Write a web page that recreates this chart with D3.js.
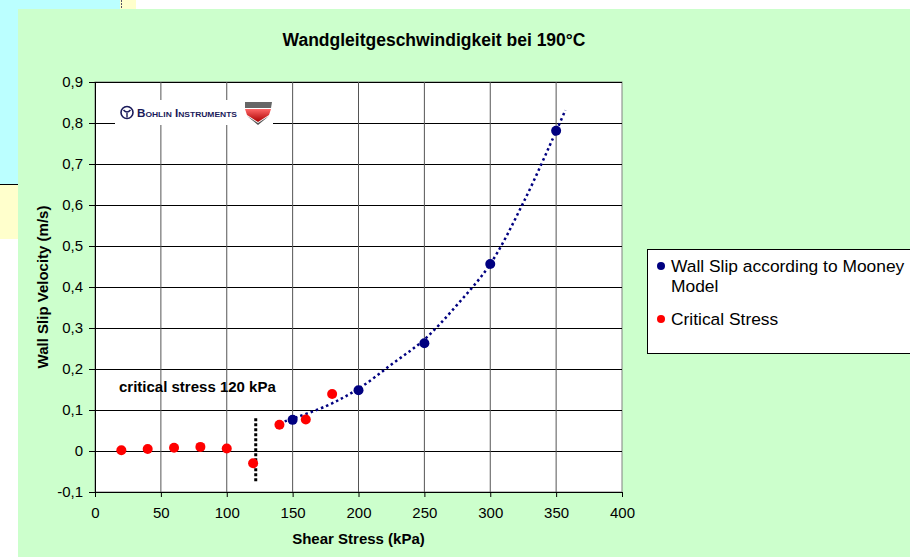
<!DOCTYPE html>
<html>
<head>
<meta charset="utf-8">
<script src="https://cdn.jsdelivr.net/npm/d3@7"></script>
<style>
  html, body { margin: 0; padding: 0; background: #fff; }
  svg { display: block; font-family: "Liberation Sans", Arial, sans-serif; }
</style>
</head>
<body>
<svg id="chart"></svg>
<script>
// Data
const mooneyStress = [150, 200, 250, 300, 350];
const mooneyVelocity = [0.076, 0.148, 0.263, 0.456, 0.781];

const criticalStress = [20, 40, 60, 80, 100, 120, 140, 160, 180];
const criticalVelocity = [0.002, 0.005, 0.008, 0.01, 0.006, -0.03, 0.064, 0.077, 0.139];

// trendline
const trendStress = [140, 175, 200, 225, 250, 275, 300, 325, 350, 357];
const trendVelocity = [0.068, 0.109, 0.152, 0.211, 0.272, 0.357, 0.456, 0.605, 0.78, 0.831];

// dotted marker at the critical stress
const markerStress = [122, 122];
const markerVelocity = [0.08, -0.078];

const xTicks = [0, 50, 100, 150, 200, 250, 300, 350, 400];
const yTicks = [-0.1, 0, 0.1, 0.2, 0.3, 0.4, 0.5, 0.6, 0.7, 0.8, 0.9];

const legendLabels = [["Wall Slip according to Mooney", "Model"], ["Critical Stress"]];
const legendColors = ["#000080", "#ff0000"];

const W = 910, H = 557;
const plot = { left: 95, right: 622, top: 82, bottom: 492 };

const svg = d3.select("#chart")
    .attr("width", W)
    .attr("height", H);

// background sheet pieces behind the chart
svg.append("rect").attr("x", 0).attr("y", 0).attr("width", 136).attr("height", 239).attr("fill", "#ffffcc");
svg.append("rect").attr("x", 0).attr("y", 0).attr("width", 120).attr("height", 184).attr("fill", "#bbffff");
svg.append("line").attr("x1", 0).attr("x2", 120).attr("y1", 184.5).attr("y2", 184.5).attr("stroke", "#000");
svg.append("line").attr("x1", 121.5).attr("x2", 121.5).attr("y1", 0).attr("y2", 9)
    .attr("stroke", "#556").attr("stroke-dasharray", "2,1");

// chart area
svg.append("rect").attr("x", 18).attr("y", 9).attr("width", W - 18).attr("height", H - 9).attr("fill", "#ccffcc");

const x = d3.scaleLinear().domain([0, 400]).range([plot.left, plot.right]);
const y = d3.scaleLinear().domain([-0.1, 0.9]).range([plot.bottom, plot.top]);

svg.append("rect")
    .attr("x", plot.left).attr("y", plot.top)
    .attr("width", plot.right - plot.left).attr("height", plot.bottom - plot.top)
    .attr("fill", "#fff").attr("stroke", "#808080");

// gridlines
svg.append("g")
    .selectAll("line")
    .data(yTicks.slice(1))
    .join("line")
    .attr("x1", plot.left).attr("x2", plot.right)
    .attr("y1", d => Math.round(y(d)) + 0.5).attr("y2", d => Math.round(y(d)) + 0.5)
    .attr("stroke", "#000");

svg.append("g")
    .selectAll("line")
    .data(xTicks.slice(1, -1))
    .join("line")
    .attr("x1", d => x(d)).attr("x2", d => x(d))
    .attr("y1", plot.top).attr("y2", plot.bottom)
    .attr("stroke", "#555");

// axes
const xAxis = svg.append("g")
    .attr("transform", "translate(0," + plot.bottom + ")")
    .call(d3.axisBottom(x).tickValues(xTicks).tickSize(5).tickPadding(10).tickFormat(d3.format("d")));
const yAxis = svg.append("g")
    .attr("transform", "translate(" + plot.left + ",0)")
    .call(d3.axisLeft(y).tickValues(yTicks).tickSize(6).tickPadding(6)
        .tickFormat(d => d === 0 ? "0" : d3.format(".1f")(d).replace(".", ",").replace("−", "-")));

[xAxis, yAxis].forEach(a => {
    a.select(".domain").attr("stroke", "#000");
    a.selectAll(".tick line").attr("stroke", "#000");
    a.selectAll("text").attr("fill", "#000").attr("font-size", 15)
        .attr("font-family", "'Liberation Sans', Arial, sans-serif");
});

// logo
const logo = svg.append("g");
logo.append("rect").attr("x", 115).attr("y", 100).attr("width", 158).attr("height", 25).attr("fill", "#fff");
logo.append("circle").attr("cx", 127).attr("cy", 112.5).attr("r", 6).attr("fill", "none")
    .attr("stroke", "#1a1a5a").attr("stroke-width", 1.6);
logo.append("path").attr("d", "M123.5,110 Q127,114 130.5,110 M127,113 L127,117.5")
    .attr("stroke", "#1a1a5a").attr("stroke-width", 1.4).attr("fill", "none");
logo.append("text").attr("x", 137).attr("y", 117)
    .attr("font-weight", "bold")
    .attr("font-size", 11).attr("fill", "#1a1a5a")
    .attr("font-variant", "small-caps")
    .attr("textLength", 100).attr("lengthAdjust", "spacingAndGlyphs")
    .text("Bohlin Instruments");
const grad = svg.append("defs").append("linearGradient").attr("id", "shield").attr("x1", 0).attr("y1", 0).attr("x2", 0).attr("y2", 1);
grad.append("stop").attr("offset", "0").attr("stop-color", "#ff6666");
grad.append("stop").attr("offset", "1").attr("stop-color", "#aa0000");
logo.append("path").attr("d", "M245,102 L272,102 L271,108 L245,108 Z").attr("fill", "#666");
logo.append("path").attr("d", "M245,109 L271,109 L269,115 L258,122 L247,115 Z").attr("fill", "url(#shield)");
logo.append("path").attr("d", "M247,116 L258,123 L269,116 L258,125 Z").attr("fill", "#555");

// trendline
const line = d3.line()
    .x(d => x(d[0]))
    .y(d => y(d[1]))
    .curve(d3.curveCatmullRom);

svg.append("path")
    .datum(d3.zip(trendStress, trendVelocity))
    .attr("fill", "none")
    .attr("stroke", "#000080")
    .attr("stroke-width", 2.5)
    .attr("stroke-dasharray", "2.5,3")
    .attr("d", line);

// critical stress marker
svg.append("path")
    .datum(d3.zip(markerStress, markerVelocity))
    .attr("fill", "none")
    .attr("stroke", "#000")
    .attr("stroke-width", 3)
    .attr("stroke-dasharray", "3,2")
    .attr("d", d3.line().x(d => x(d[0])).y(d => y(d[1])));

// points
svg.append("g")
    .selectAll("circle")
    .data(d3.zip(criticalStress, criticalVelocity))
    .join("circle")
    .attr("cx", d => x(d[0])).attr("cy", d => y(d[1]))
    .attr("r", 5)
    .attr("fill", "#ff0000");

svg.append("g")
    .selectAll("circle")
    .data(d3.zip(mooneyStress, mooneyVelocity))
    .join("circle")
    .attr("cx", d => x(d[0])).attr("cy", d => y(d[1]))
    .attr("r", 5)
    .attr("fill", "#000080");

// texts
svg.append("text").attr("x", 434).attr("y", 46).attr("text-anchor", "middle")
    .attr("font-weight", "bold").attr("font-size", 17.5)
    .text("Wandgleitgeschwindigkeit bei 190°C");

svg.append("text").attr("x", (plot.left + plot.right) / 2).attr("y", 544).attr("text-anchor", "middle")
    .attr("font-weight", "bold").attr("font-size", 15)
    .text("Shear Stress (kPa)");

svg.append("text")
    .attr("transform", "translate(48," + (plot.top + plot.bottom) / 2 + ") rotate(-90)")
    .attr("text-anchor", "middle")
    .attr("font-weight", "bold").attr("font-size", 15)
    .text("Wall Slip Velocity (m/s)");

svg.append("text").attr("x", 119).attr("y", 392)
    .attr("font-weight", "bold").attr("font-size", 15)
    .text("critical stress 120 kPa");

// legend
const legend = svg.append("g");
legend.append("rect").attr("x", 647.5).attr("y", 249.5).attr("width", 280).attr("height", 104)
    .attr("fill", "#fff").attr("stroke", "#000");

const legendRows = [266, 319];
legendLabels.forEach((lines, i) => {
    legend.append("circle").attr("cx", 661).attr("cy", legendRows[i]).attr("r", 4).attr("fill", legendColors[i]);
    lines.forEach((t, j) => {
        legend.append("text").attr("x", 671).attr("y", legendRows[i] + 6 + j * 20)
            .attr("font-size", 17.4).text(t);
    });
});
</script>
</body>
</html>
